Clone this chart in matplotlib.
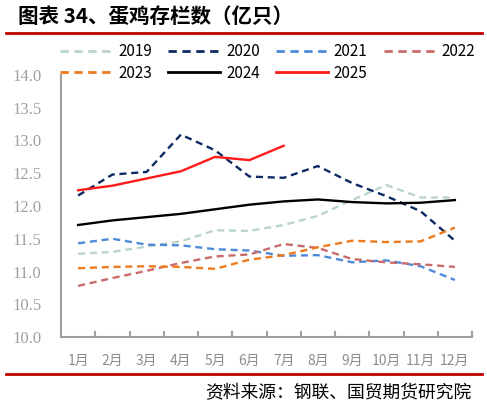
import numpy as np
import matplotlib
matplotlib.use('Agg')
import matplotlib.pyplot as plt
from matplotlib.lines import Line2D

plt.rcParams['font.family'] = ['Noto Sans CJK SC', 'DejaVu Sans']

months = ['1月', '2月', '3月', '4月', '5月', '6月', '7月', '8月', '9月', '10月', '11月', '12月']

y2019 = [11.27, 11.30, 11.38, 11.46, 11.63, 11.62, 11.71, 11.85, 12.09, 12.32, 12.13, 12.13]
y2020 = [12.16, 12.48, 12.52, 13.09, 12.85, 12.45, 12.43, 12.61, 12.35, 12.15, 11.92, 11.47]
y2021 = [11.43, 11.50, 11.41, 11.40, 11.34, 11.32, 11.24, 11.25, 11.14, 11.17, 11.08, 10.87]
y2022 = [10.78, 10.90, 11.01, 11.13, 11.23, 11.26, 11.42, 11.36, 11.19, 11.14, 11.11, 11.07]
y2023 = [11.05, 11.07, 11.08, 11.07, 11.04, 11.18, 11.25, 11.37, 11.47, 11.45, 11.46, 11.67]
y2024 = [11.71, 11.78, 11.83, 11.88, 11.95, 12.02, 12.07, 12.10, 12.06, 12.04, 12.05, 12.09]
y2025 = [12.24, 12.31, 12.42, 12.53, 12.75, 12.70, 12.92]

series = [
    ('2019', y2019, '#BBD5C8', (0, (3, 2))),
    ('2020', y2020, '#0E2A63', (0, (3, 2))),
    ('2021', y2021, '#4F8AD8', (0, (3, 2))),
    ('2022', y2022, '#C96B6B', (0, (3, 2))),
    ('2023', y2023, '#EE7A1C', (0, (3, 2))),
    ('2024', y2024, '#000000', '-'),
    ('2025', y2025, '#FF1A1A', '-'),
]

W, H = 487, 408
fig = plt.figure(figsize=(W / 100, H / 100), dpi=100)

# axes box in pixels: left 61, right 472, top 75, bottom 337
ax = fig.add_axes([61 / W, 1 - 337 / H, (472 - 61) / W, (337 - 75) / H])

x = np.arange(len(months))
for name, vals, col, ls in series:
    ax.plot(x[:len(vals)], vals, color=col, lw=1.7, ls=ls, label=name)

ax.set_xlim(-0.5, 11.5)
ax.set_ylim(10.0, 14.0)
ax.set_yticks(np.arange(10.0, 14.01, 0.5))
ax.set_yticklabels(['%.1f' % v for v in np.arange(10.0, 14.01, 0.5)],
                   family='Liberation Serif', fontsize=12, color='#A0A0A0')
ax.set_xticks(x)
ax.set_xticklabels(months, fontsize=10, color='#8C8C8C')
ax.set_xticks(np.arange(-0.5, 12, 1), minor=True)
ax.tick_params(axis='x', which='major', length=0, pad=12)
ax.tick_params(axis='x', which='minor', length=4, direction='in', color='#A0A0A0', width=1.5)
ax.tick_params(axis='y', length=0, pad=14)

for s in ['top', 'right']:
    ax.spines[s].set_visible(False)
for s in ['left', 'bottom']:
    ax.spines[s].set_color('#A0A0A0')
    ax.spines[s].set_linewidth(1.5)

# legend, row-major order -> reorder for matplotlib's column filling
order = [0, 4, 1, 5, 2, 6, 3]
handles = [Line2D([0], [0], color=series[i][2], lw=2, ls=series[i][3]) for i in order]
labels = [series[i][0] for i in order]
fig.legend(handles, labels, ncol=4, loc='upper left',
           bbox_to_anchor=(60 / W, 1 - 43 / H), frameon=False, borderpad=0,
           borderaxespad=0, fontsize=11, handlelength=3.4, columnspacing=1.05,
           handletextpad=0.4, labelspacing=0.3)

# title and decoration
fig.text(18 / W, 1 - 16 / H, '图表 34、蛋鸡存栏数（亿只）', fontsize=14.8,
         fontweight='bold', va='center', ha='left')
fig.add_artist(Line2D([6 / W, 482 / W], [1 - 33 / H, 1 - 33 / H], color='#C00000', lw=2))
fig.add_artist(Line2D([6 / W, 482 / W], [1 - 374 / H, 1 - 374 / H], color='#C00000', lw=2))
fig.text(471 / W, 1 - 393 / H, '资料来源：钢联、国贸期货研究院', fontsize=12.8,
         va='center', ha='right')

fig.savefig('out.png', dpi=100)
